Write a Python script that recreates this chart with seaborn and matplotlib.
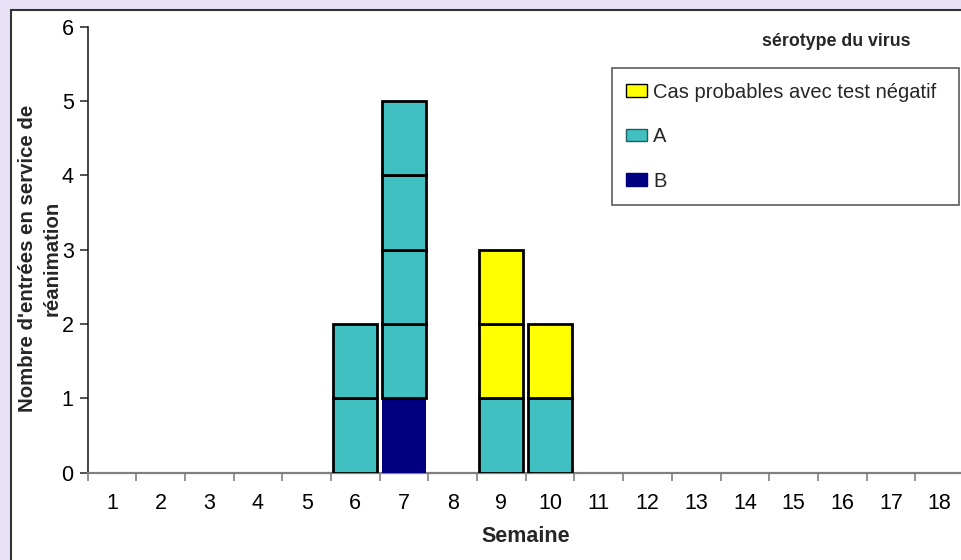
import matplotlib
matplotlib.use("Agg")
import matplotlib.pyplot as plt
from matplotlib.patches import Rectangle, Patch
import seaborn as sns
import pandas as pd

# ---- data ----
weeks = list(range(1, 19))
week_labels = [str(w) for w in weeks]
cases_B = [0, 0, 0, 0, 0, 0, 1, 0, 0, 0, 0, 0, 0, 0, 0, 0, 0, 0]
cases_A = [0, 0, 0, 0, 0, 2, 4, 0, 1, 1, 0, 0, 0, 0, 0, 0, 0, 0]
cases_prob = [0, 0, 0, 0, 0, 0, 0, 0, 2, 1, 0, 0, 0, 0, 0, 0, 0, 0]
series_names = ["Cas probables avec test négatif", "A", "B"]
series_colors = {"Cas probables avec test négatif": "#FFFF00", "A": "#40C0C0", "B": "#000080"}
series_edges = {"Cas probables avec test négatif": "black", "A": "black", "B": "none"}
legend_edges = {"Cas probables avec test négatif": "black", "A": "#1E6060", "B": "#000080"}

# expand into one row per case (each case drawn as a unit segment), stacked B, A, probable
rows = []
for i, w in enumerate(weeks):
    level = 0
    for name, counts in (("B", cases_B), ("A", cases_A),
                         ("Cas probables avec test négatif", cases_prob)):
        for _ in range(counts[i]):
            rows.append({"week": w, "serie": name, "bottom": level})
            level += 1
df = pd.DataFrame(rows)

sns.set_theme(style="white")
plt.rcParams["font.family"] = ["Liberation Sans", "DejaVu Sans"]

W, H = 962, 560
fig = plt.figure(figsize=(W / 100, H / 100), dpi=100, facecolor="#E7E2F8")
panel = Rectangle((11 / W, -0.1), 1.2, (H - 9.5) / H + 0.1, transform=fig.transFigure,
                  facecolor="white", edgecolor="#333333", linewidth=1.5, zorder=-10)
fig.patches.append(panel)

left, right = 87.5, 964.0
top, bottom = 26.7, 472.6
ax = fig.add_axes([left / W, (H - bottom) / H, (right - left) / W, (bottom - top) / H])
ax.set_zorder(1)
ax.set_facecolor("white")

for name in ["B", "A", "Cas probables avec test négatif"]:
    sub = df[df["serie"] == name]
    ax.bar(sub["week"], 1, bottom=sub["bottom"], width=0.9,
           color=series_colors[name], edgecolor=series_edges[name],
           linewidth=2.0 if name != "B" else 0, zorder=3)

ax.set_xlim(0.5, 18.5)
ax.set_ylim(0, 6)
ax.set_xticks(weeks)
ax.set_xticklabels(week_labels)
ax.set_xticks([w + 0.5 for w in range(0, 18)], minor=True)
ax.set_yticks(range(0, 7))
ax.tick_params(axis="x", which="major", length=0, pad=15, labelsize=15.5, colors="black")
ax.tick_params(axis="x", which="minor", length=6, width=1.2, color="#808080", direction="out", bottom=True)
ax.tick_params(axis="y", which="major", length=6, width=1.2, color="#333333", direction="out",
               left=True, pad=4, labelsize=15.5, labelcolor="black")

for s in ["top", "right"]:
    ax.spines[s].set_visible(False)
ax.spines["left"].set_color("#222222")
ax.spines["left"].set_linewidth(1.2)
ax.spines["bottom"].set_color("#808080")
ax.spines["bottom"].set_linewidth(1.6)

ax.set_xlabel("Semaine", fontsize=15.5, fontweight="bold")
ax.xaxis.set_label_coords(0.5, -(537 - bottom) / (bottom - top))
ax.xaxis.label.set_verticalalignment("center")

ax.set_ylabel("Nombre d'entrées en service de\nréanimation", fontsize=14.7, fontweight="bold",
              linespacing=1.4, multialignment="center")
ax.yaxis.set_label_coords((40 - left) / (right - left), (bottom - 258) / (bottom - top))
ax.yaxis.label.set_verticalalignment("center")

handles = [Patch(facecolor=series_colors[n], edgecolor=legend_edges[n], linewidth=1.0)
           for n in series_names]
leg = fig.legend(handles, series_names, loc="upper left",
                 bbox_to_anchor=(612 / W, 1 - 69 / H, 347 / W, 0.001), mode="expand",
                 borderaxespad=0, fontsize=14.5, frameon=True, fancybox=False,
                 handlelength=1.05, handleheight=0.6, handletextpad=0.3,
                 labelspacing=1.27, borderpad=0.7)
leg.get_frame().set_edgecolor("#333333")
leg.get_frame().set_linewidth(1.2)
fig.text(836 / W, 1 - 41 / H, "sérotype du virus", fontsize=12.8, fontweight="bold",
         ha="center", va="center")

fig.savefig("out.png", dpi=100, facecolor=fig.get_facecolor())
